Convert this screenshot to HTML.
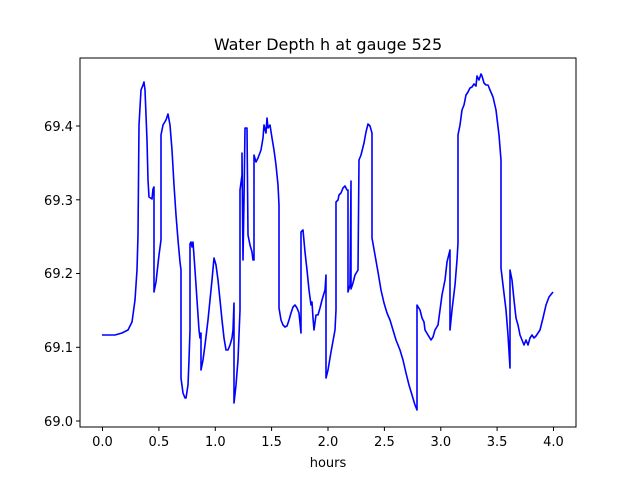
<!DOCTYPE html>
<html><head><style>body{margin:0;background:#fff}svg{display:block}text{font-family:"DejaVu Sans","Liberation Sans",sans-serif;fill:#000}</style></head>
<body>
<svg width="640" height="480" viewBox="0 0 640 480" xmlns="http://www.w3.org/2000/svg">
<rect width="640" height="480" fill="#fff"/>
<text x="328" y="50" font-size="16" text-anchor="middle">Water Depth h at gauge 525</text>
<polyline fill="none" stroke="#0000ff" stroke-width="1.6" stroke-linejoin="round" points="102,335 115,335 122,333 128,330 132,322 135,300 137,270 138,235 139,125 141,90 143,85 144,82 145,90 147,140 148,180 149,197 152,199 153,189 154,187 154,292 156,282 159,255 161,240 161,135 163,125 166,120 168,114 170,125 172,150 174,185 176,215 178,240 180,262 181,270 181,378 183,393 185,398 186,398 188,385 189,360 190,330 190,244 191,242 192,247 193,242 195,270 197,300 199,330 200,338 201,333 201,370 203,360 205,345 208,320 210,300 212,280 214,258 216,265 218,280 220,300 222,320 224,338 226,350 228,350 230,345 232,338 233,330 234,303 234,403 236,385 238,360 240,310 240,190 242,175 242,153 243,260 244,200 245,128 247,128 248,235 250,245 252,252 253,260 254,260 254,155 256,162 258,158 261,150 263,138 264,125 266,133 267,118 268,128 270,125 272,138 274,150 276,165 278,185 279,205 279,308 281,320 283,325 285,327 287,326 289,320 291,313 293,307 295,305 297,308 299,313 301,333 301,232 303,230 305,252 307,270 309,290 311,305 312,302 313,318 314,330 316,315 318,315 320,308 322,300 325,290 326,275 326,378 328,370 331,352 335,330 336,310 336,202 338,200 339,195 341,193 343,188 345,186 347,190 348,190 348,292 350,285 351,181 351,289 353,283 355,275 358,270 359,160 361,155 364,143 366,132 368,124 370,126 372,133 372,238 375,255 378,272 381,290 384,303 387,313 390,320 393,330 396,340 400,350 403,360 406,373 409,385 412,395 415,405 417,410 417,305 420,310 422,318 424,322 425,330 428,335 431,340 433,337 435,330 438,325 440,310 442,295 445,280 447,262 450,250 450,330 452,310 455,285 457,260 458,243 458,135 460,125 462,110 464,105 466,95 468,92 470,88 472,87 474,84 476,86 477,76 479,80 481,74 482,76 484,83 486,85 488,85 490,90 493,97 496,110 499,135 501,160 501,268 503,285 506,310 508,335 510,368 510,270 512,280 514,300 516,318 518,325 520,335 522,340 524,345 526,340 528,345 530,338 532,335 534,338 536,336 540,330 543,318 546,305 549,297 553,292"/>
<rect x="80" y="58" width="496" height="369" fill="none" stroke="#000" stroke-width="1"/>
<g stroke="#000" stroke-width="1">
<line x1="102.5" y1="427" x2="102.5" y2="431"/><line x1="158.9" y1="427" x2="158.9" y2="431"/><line x1="215.3" y1="427" x2="215.3" y2="431"/><line x1="271.6" y1="427" x2="271.6" y2="431"/><line x1="328" y1="427" x2="328" y2="431"/><line x1="384.4" y1="427" x2="384.4" y2="431"/><line x1="440.8" y1="427" x2="440.8" y2="431"/><line x1="497.1" y1="427" x2="497.1" y2="431"/><line x1="553.5" y1="427" x2="553.5" y2="431"/>
<line x1="76" y1="421" x2="80" y2="421"/><line x1="76" y1="347.3" x2="80" y2="347.3"/><line x1="76" y1="273.5" x2="80" y2="273.5"/><line x1="76" y1="199.8" x2="80" y2="199.8"/><line x1="76" y1="126" x2="80" y2="126"/>
</g>
<g font-size="13" text-anchor="middle">
<text x="102.5" y="446">0.0</text><text x="158.9" y="446">0.5</text><text x="215.3" y="446">1.0</text><text x="271.6" y="446">1.5</text><text x="328" y="446">2.0</text><text x="384.4" y="446">2.5</text><text x="440.8" y="446">3.0</text><text x="497.1" y="446">3.5</text><text x="553.5" y="446">4.0</text>
<text x="328" y="467">hours</text>
</g>
<g font-size="13" text-anchor="end">
<text x="73" y="426">69.0</text><text x="73" y="352">69.1</text><text x="73" y="278">69.2</text><text x="73" y="205">69.3</text><text x="73" y="131">69.4</text>
</g>
</svg>
</body></html>
